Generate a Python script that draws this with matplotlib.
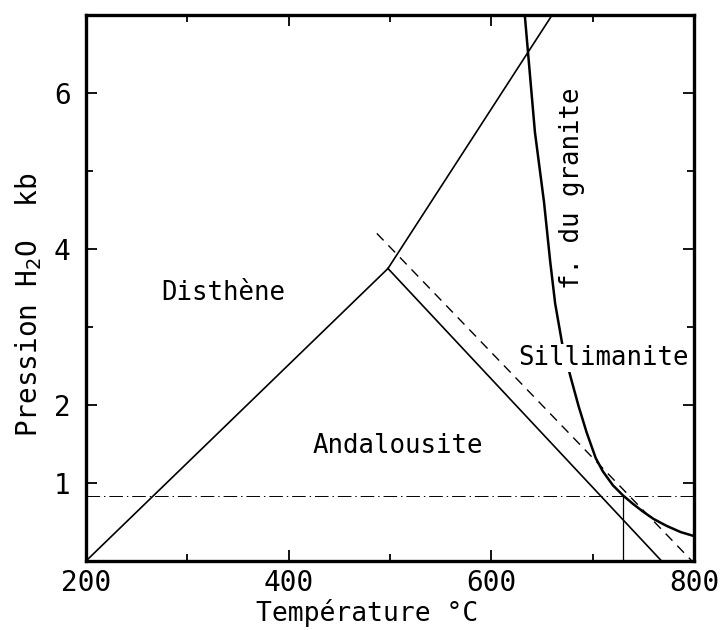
import matplotlib
matplotlib.use("Agg")
import matplotlib.pyplot as plt

plt.rcParams['font.family'] = ['DejaVu Sans Mono', 'DejaVu Sans']
plt.rcParams['mathtext.fontset'] = 'dejavusans'

# ---- data (T in °C, P in kb) ----
ky_and_T = [200, 498]
ky_and_P = [0.0, 3.75]
ky_sil_T = [498, 660]
ky_sil_P = [3.75, 7.0]
and_sil_T = [498, 768]
and_sil_P = [3.75, 0.0]
dashed_T = [487, 798]
dashed_P = [4.2, 0.0]
granite_T = [633, 638, 643, 652, 658, 663, 670, 678, 686, 694, 703, 710, 720, 730, 740, 750, 760, 773, 787, 800]
granite_P = [7.0, 6.25, 5.5, 4.6, 3.85, 3.3, 2.78, 2.37, 1.99, 1.65, 1.32, 1.15, 0.97, 0.84, 0.73, 0.63, 0.54, 0.45, 0.37, 0.32]
horiz_P = 0.83
vert_T = 730

x_major = [200, 400, 600, 800]
x_minor = [300, 500, 700]
y_major = [1, 2, 4, 6]
y_minor = [3, 5]

labels = ["Disthène", "Andalousite", "Sillimanite", "f. du granite"]
label_T = [335, 508, 711, 680]
label_P = [3.44, 1.47, 2.6, 4.78]
label_rot = [0, 0, 0, 90]

fig = plt.figure(figsize=(7.26, 6.3), dpi=100)
ax = fig.add_axes([86/726, 1-561/630, 608/726, 546/630])

ax.plot(ky_and_T, ky_and_P, color='black', lw=1.2)
ax.plot(ky_sil_T, ky_sil_P, color='black', lw=1.2)
ax.plot(and_sil_T, and_sil_P, color='black', lw=1.2)
ax.plot(dashed_T, dashed_P, color='black', lw=1.0, ls=(0, (7, 5)))
ax.plot(granite_T, granite_P, color='black', lw=1.8)
ax.plot([200, 800], [horiz_P, horiz_P], color='black', lw=0.7, ls=(0, (14, 4, 1.5, 4)))
ax.plot([vert_T, vert_T], [0, horiz_P], color='black', lw=0.9)

for s, t, p, r in zip(labels, label_T, label_P, label_rot):
    kw = {}
    if s == "Sillimanite":
        kw['bbox'] = dict(facecolor='white', edgecolor='none', pad=1)
    ax.text(t, p, s, ha='center', va='center', rotation=r, fontsize=18.5, zorder=5, **kw)

ax.set_xlim(200, 800)
ax.set_ylim(0, 7)
ax.set_xticks(x_major)
ax.set_xticks(x_minor, minor=True)
ax.set_yticks(y_major)
ax.set_yticks(y_minor, minor=True)
ax.set_xticklabels([str(v) for v in x_major])
ax.set_yticklabels([str(v) for v in y_major])

ax.tick_params(which='both', direction='in', top=True, right=True, width=1.3)
ax.tick_params(which='major', length=8, labelsize=20, pad=6)
ax.tick_params(axis='y', which='major', pad=11)
ax.tick_params(which='minor', length=5)
for sp in ax.spines.values():
    sp.set_linewidth(2.4)

ax.set_xlabel("Température °C", fontsize=19)
ax.xaxis.set_label_coords(0.462, -0.095)
ax.xaxis.label.set_va('center')
ax.set_ylabel("Pression H$_2$O  kb", fontsize=20)
ax.yaxis.set_label_coords(-0.095, 0.47)
ax.yaxis.label.set_va('center')

fig.savefig("out.png", dpi=100)
